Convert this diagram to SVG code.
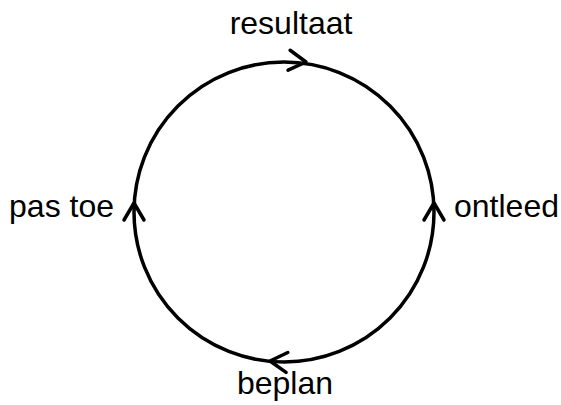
<svg xmlns="http://www.w3.org/2000/svg" xmlns:xlink="http://www.w3.org/1999/xlink" width="561" height="405" viewBox="0 0 561 405">
<style>
.lbl{font-family:"Liberation Sans",Arial,sans-serif;font-size:32px;fill:#000}
.ln{fill:none;stroke:#000;stroke-width:3.5;stroke-linecap:round;stroke-linejoin:round}
</style>
<defs>
<path id="ah" class="ln" d="M-17,-10 L0,0 L-17,10"/>
</defs>
<rect width="561" height="405" fill="#fff"/>
<g id="connectors">
<circle class="ln" cx="284" cy="212" r="150"/>
<use xlink:href="#ah" transform="translate(306,62) rotate(6)"/>
<use xlink:href="#ah" transform="translate(434,203) rotate(-90)"/>
<use xlink:href="#ah" transform="translate(134,203) rotate(-90)"/>
<use xlink:href="#ah" transform="translate(270,361) rotate(185)"/>
</g>
<g id="resultaat"><text class="lbl" x="291" y="34" text-anchor="middle">resultaat</text></g>
<g id="ontleed"><text class="lbl" x="454" y="217">ontleed</text></g>
<g id="beplan"><text class="lbl" x="285" y="394" text-anchor="middle">beplan</text></g>
<g id="pastoe"><text class="lbl" x="114" y="217" text-anchor="end">pas toe</text></g>
</svg>
